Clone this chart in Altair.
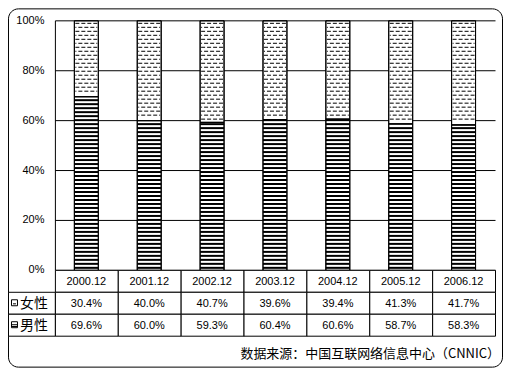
import altair as alt
import pandas as pd

# ---- data ----
years = ["2000.12", "2001.12", "2002.12", "2003.12", "2004.12", "2005.12", "2006.12"]
female = [30.4, 40.0, 40.7, 39.6, 39.4, 41.3, 41.7]
male = [69.6, 60.0, 59.3, 60.4, 60.6, 58.7, 58.3]
row_keys = ["year", "女性", "男性"]
y_ticks = [0, 20, 40, 60, 80, 100]
source_text = "数据来源：中国互联网络信息中心（CNNIC）"

NUM_FONT = "Liberation Sans"
CJK_FONT = "Noto Sans CJK SC"

W, H, LW, TH = 441, 250, 47, 66
HALF = 12 / 63.0      # bar half width in x units
DHALF = 11 / 63.0     # dash texture half width

# ---- bar segments ----
seg = []
for i, (y, f, m) in enumerate(zip(years, female, male)):
    seg.append({"i": i, "year": y, "sex": "男性", "y0": 0.0, "y1": m})
    seg.append({"i": i, "year": y, "sex": "女性", "y0": m, "y1": m + f})
seg_df = pd.DataFrame(seg)

# ---- fill textures (hatch pattern of the original), derived from the values ----
stripes = []
for i, m in enumerate(male):
    k = 0
    while 0.8 + 1.6 * k <= m - 0.4:
        stripes.append({"i": i, "v": 0.8 + 1.6 * k})
        k += 1
stripe_df = pd.DataFrame(stripes)

dashes = []
for i, m in enumerate(male):
    k = 0
    while 99 - 1.6 * k >= m + 1.0:
        dashes.append({"i": i, "v": 99 - 1.6 * k, "odd": k % 2})
        k += 1
dash_df = pd.DataFrame(dashes)

xs = alt.Scale(domain=[-0.5, 6.5], nice=False, zero=False)
ys = alt.Scale(domain=[0, 100], nice=False)
y_axis = alt.Axis(values=y_ticks, labelExpr="datum.value + '%'", grid=True,
                  gridColor="black", gridOpacity=1, gridWidth=1,
                  domain=True, domainColor="black", domainWidth=1,
                  ticks=False, labelPadding=11, labelFont=NUM_FONT,
                  labelFontSize=11, labelColor="black", title=None)

def xenc(field):
    return alt.X(field, type="quantitative", scale=xs, axis=None)

def yenc(field):
    return alt.Y(field, type="quantitative", scale=ys, axis=y_axis)

bars_fill = alt.Chart(seg_df).transform_calculate(
    x0=f"datum.i - {HALF}", x1=f"datum.i + {HALF}"
).mark_rect(fill="white", stroke="black", strokeWidth=1, yOffset=0.5, y2Offset=0.5).encode(
    x=xenc("x0"), x2="x1:Q", y=yenc("y0"), y2="y1:Q"
)

male_tex = alt.Chart(stripe_df).transform_calculate(
    x0=f"datum.i - {HALF}", x1=f"datum.i + {HALF}"
).mark_rule(color="black", strokeWidth=2).encode(
    x=xenc("x0"), x2="x1:Q", y=yenc("v")
)

dash_even = alt.Chart(dash_df).transform_filter("datum.odd == 0").transform_calculate(
    x0=f"datum.i - {DHALF}", x1=f"datum.i + {DHALF}"
).mark_rule(color="black", strokeWidth=1, strokeDash=[4, 2], strokeDashOffset=0, yOffset=0.5).encode(
    x=xenc("x0"), x2="x1:Q", y=yenc("v")
)
dash_odd = alt.Chart(dash_df).transform_filter("datum.odd == 1").transform_calculate(
    x0=f"datum.i - {DHALF}", x1=f"datum.i + {DHALF}"
).mark_rule(color="black", strokeWidth=1, strokeDash=[4, 2], strokeDashOffset=3, yOffset=0.5).encode(
    x=xenc("x0"), x2="x1:Q", y=yenc("v")
)

bars_outline = alt.Chart(seg_df).transform_calculate(
    x0=f"datum.i - {HALF}", x1=f"datum.i + {HALF}"
).mark_rect(fillOpacity=0, stroke="black", strokeWidth=1, yOffset=0.5, y2Offset=0.5).encode(
    x=xenc("x0"), x2="x1:Q", y=yenc("y0"), y2="y1:Q"
)

bars = alt.layer(bars_fill, male_tex, dash_even, dash_odd, bars_outline).properties(width=W, height=H)

# ---- empty top-left cell carrying the rounded outer frame ----
frame = alt.Chart(pd.DataFrame({"a": [0]})).mark_rect(
    fillOpacity=0, stroke="black", strokeWidth=1, cornerRadius=10
).encode(
    x=alt.value(0.5), x2=alt.value(495.5), y=alt.value(-11.5), y2=alt.value(347.5)
).properties(width=LW, height=H)

# ---- data table ----
row_scale = alt.Scale(domain=row_keys, paddingInner=0, paddingOuter=0)
col_scale = alt.Scale(domain=years, paddingInner=0, paddingOuter=0)

cells = []
for y, f, m in zip(years, female, male):
    cells.append({"year": y, "row": "year", "txt": y})
    cells.append({"year": y, "row": "女性", "txt": f"{f:.1f}%"})
    cells.append({"year": y, "row": "男性", "txt": f"{m:.1f}%"})
cell_df = pd.DataFrame(cells)

cell_rect = alt.Chart(cell_df).mark_rect(
    fill="white", stroke="black", strokeWidth=1,
    xOffset=0.5, x2Offset=0.5, yOffset=0.5, y2Offset=0.5
).encode(
    x=alt.X("year:N", scale=col_scale, axis=None),
    y=alt.Y("row:N", scale=row_scale, axis=None),
)
cell_txt = alt.Chart(cell_df).mark_text(
    font=NUM_FONT, fontSize=11, color="black", baseline="middle", yOffset=1
).encode(
    x=alt.X("year:N", scale=col_scale, axis=None),
    y=alt.Y("row:N", scale=row_scale, axis=None),
    text="txt:N",
)
table = alt.layer(cell_rect, cell_txt).properties(
    width=W, height=TH,
    title=alt.TitleParams(source_text, orient="bottom", anchor="end", offset=11,
                          font=CJK_FONT, fontSize=13, fontWeight="normal",
                          color="black", dx=4),
)

# ---- row labels with pattern keys ----
PF = "M-1,-1H1V1H-1Z M-0.5,0.35H0.5"
PM = "M-1,-1H1V1H-1Z M-1,0H1 M-1,0.6H1"
lab_df = pd.DataFrame({"row": ["女性", "男性"]})
lab_rect = alt.Chart(lab_df).mark_rect(
    fill="white", stroke="black", strokeWidth=1,
    xOffset=0.5, x2Offset=0.5, yOffset=0.5, y2Offset=0.5
).encode(
    y=alt.Y("row:N", scale=row_scale, axis=None),
    x=alt.value(0), x2=alt.value(LW),
)
lab_sym = alt.Chart(lab_df).mark_point(
    size=36, filled=False, stroke="black", strokeWidth=1, opacity=1
).encode(
    y=alt.Y("row:N", scale=row_scale, axis=None),
    x=alt.value(6.5),
    shape=alt.Shape("row:N", scale=alt.Scale(domain=["女性", "男性"], range=[PF, PM]), legend=None),
)
lab_txt = alt.Chart(lab_df).mark_text(
    font=CJK_FONT, fontSize=14, color="black", align="left", baseline="middle", yOffset=1
).encode(
    y=alt.Y("row:N", scale=row_scale, axis=None),
    x=alt.value(12),
    text="row:N",
)
labels = alt.layer(lab_rect, lab_sym, lab_txt).properties(width=LW, height=TH)

chart = alt.concat(
    frame, bars, labels, table,
    columns=2, spacing=0, bounds="flush", align="each",
).properties(padding=0).configure_view(strokeWidth=0)

chart.save("out.html", embed_options={"renderer": "svg", "actions": False})
